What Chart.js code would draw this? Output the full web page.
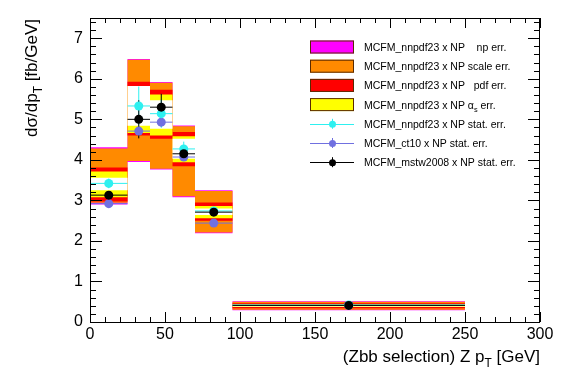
<!DOCTYPE html>
<html>
<head>
<meta charset="utf-8">
<script src="https://cdn.jsdelivr.net/npm/chart.js@4.4.0/dist/chart.umd.min.js"></script>
<style>
  html, body { margin: 0; padding: 0; background: #fff; }
</style>
</head>
<body>
<canvas id="chart" width="567" height="384"></canvas>
<script>
// bin edges of Z pT (GeV) and bin centres
const binEdges = [0, 25, 40, 55, 70, 95, 250];
const binCenters = [12.5, 32.5, 47.5, 62.5, 82.5, 172.5];

// uncertainty bands, low / high edge per bin
const npLow = [2.90, 3.95, 3.76, 3.08, 2.19, 0.29];
const npHigh = [4.31, 6.49, 5.92, 4.85, 3.25, 0.51];
const scaleLow = [2.94, 3.97, 3.78, 3.10, 2.21, 0.30];
const scaleHigh = [4.28, 6.47, 5.90, 4.83, 3.23, 0.50];
const pdfLow = [2.97, 4.60, 4.52, 3.84, 2.50, 0.34];
const pdfHigh = [3.81, 5.93, 5.73, 4.69, 2.95, 0.46];
const alphasLow = [3.08, 4.66, 4.60, 3.94, 2.56, 0.37];
const alphasHigh = [3.71, 5.82, 5.61, 4.58, 2.86, 0.44];
const innerLow = [3.25, 4.84, 4.77, 4.03, 2.64, 0.385];
const innerHigh = [3.56, 5.82, 5.47, 4.52, 2.80, 0.425];

// theory points with stat. errors
const nnpdfVal = [3.42, 5.33, 5.14, 4.27, 2.74, 0.42];
const nnpdfErr = [0.12, 0.48, 0.35, 0.18, 0.06, 0.02];
const ct10Val = [2.92, 4.71, 4.93, 4.07, 2.44, 0.41];
const ct10Err = [0.06, 0.12, 0.12, 0.08, 0.04, 0.01];
const mstwVal = [3.13, 5.00, 5.30, 4.15, 2.71, 0.41];
const mstwErr = [0.08, 0.47, 0.33, 0.12, 0.05, 0.02];

const xTicks = [0, 50, 100, 150, 200, 250, 300];
const yTicks = [0, 1, 2, 3, 4, 5, 6, 7];

const FONT = "'Liberation Sans', Helvetica, Arial, sans-serif";
const cMagenta = "#ff00ff", cOrange = "#ff8a00", cRed = "#ff0000", cYellow = "#ffff00";
const cCyan = "#2ef0f0", cBlue = "#7070e0", cBlack = "#000000";

function stepData(vals) {
    return binEdges.map((x, i) => ({ x: x, y: vals[Math.min(i, vals.length - 1)] }));
}

function band(lo, hi, color, order) {
    return [
        { data: stepData(lo), stepped: "before", borderWidth: 0, pointRadius: 0, fill: false, order: order },
        { data: stepData(hi), stepped: "before", borderWidth: 0, pointRadius: 0, fill: "-1", backgroundColor: color, order: order }
    ];
}

function errBars(vals, errs, color, order) {
    const d = [];
    vals.forEach((v, i) => {
        d.push({ x: binCenters[i], y: v - errs[i] }, { x: binCenters[i], y: v + errs[i] }, { x: binCenters[i], y: null });
        d.push({ x: binEdges[i], y: v }, { x: binEdges[i + 1], y: v }, { x: binEdges[i + 1], y: null });
    });
    return { data: d, borderColor: color, borderWidth: 1, pointRadius: 0, fill: false, spanGaps: false, order: order };
}

function markers(vals, color, order) {
    return {
        data: vals.map((v, i) => ({ x: binCenters[i], y: v })),
        showLine: false, pointRadius: 4.5, pointBorderWidth: 0,
        pointBackgroundColor: color, pointBorderColor: color, order: order
    };
}

const datasets = [].concat(
    band(npLow, npHigh, cMagenta, 20),
    band(scaleLow, scaleHigh, cOrange, 19),
    band(pdfLow, pdfHigh, cRed, 18),
    band(alphasLow, alphasHigh, cYellow, 17),
    band(innerLow, innerHigh, "#ffffff", 16),
    [errBars(ct10Val, ct10Err, cBlue, 6),
     errBars(nnpdfVal, nnpdfErr, cCyan, 5),
     errBars(mstwVal, mstwErr, cBlack, 4),
     markers(ct10Val, cBlue, 3),
     markers(nnpdfVal, cCyan, 2),
     markers(mstwVal, cBlack, 1)]
);

// draws text pieces, some of them as subscripts
function richWidth(ctx, parts, size) {
    let w = 0;
    parts.forEach(p => {
        ctx.font = (p.sub ? size * 0.7 : size) + "px " + FONT;
        w += ctx.measureText(p.t).width;
    });
    return w;
}
function drawRich(ctx, parts, x, y, size) {
    ctx.textAlign = "left";
    ctx.textBaseline = "alphabetic";
    parts.forEach(p => {
        ctx.font = (p.sub ? size * 0.7 : size) + "px " + FONT;
        ctx.fillText(p.t, x, p.sub ? y + size * 0.3 : y);
        x += ctx.measureText(p.t).width;
    });
}

const legendItems = [
    { kind: "box", color: cMagenta, text: [{ t: "MCFM_nnpdf23 x NP    np err." }] },
    { kind: "box", color: cOrange, text: [{ t: "MCFM_nnpdf23 x NP scale err." }] },
    { kind: "box", color: cRed, text: [{ t: "MCFM_nnpdf23 x NP   pdf err." }] },
    { kind: "box", color: cYellow, text: [{ t: "MCFM_nnpdf23 x NP " }, { t: "\u03b1" }, { t: "s", sub: true }, { t: " err." }] },
    { kind: "marker", color: cCyan, text: [{ t: "MCFM_nnpdf23 x NP stat. err." }] },
    { kind: "marker", color: cBlue, text: [{ t: "MCFM_ct10 x NP stat. err." }] },
    { kind: "marker", color: cBlack, text: [{ t: "MCFM_mstw2008 x NP stat. err." }] }
];

const rootStyle = {
    id: "rootStyle",
    afterDraw(chart) {
        const ctx = chart.ctx;
        const a = chart.chartArea;
        const xs = chart.scales.x, ys = chart.scales.y;
        ctx.save();
        ctx.strokeStyle = "#000";
        ctx.lineWidth = 1;
        ctx.strokeRect(a.left + 0.5, a.top + 0.5, a.right - a.left - 1, a.bottom - a.top);
        ctx.beginPath();
        for (let v = 0; v <= 300; v += 10) {
            const px = Math.round(xs.getPixelForValue(v)) + 0.5;
            const len = v % 50 === 0 ? 10 : 5;
            ctx.moveTo(px, a.bottom); ctx.lineTo(px, a.bottom - len);
            ctx.moveTo(px, a.top); ctx.lineTo(px, a.top + len);
        }
        for (let k = 0; k <= 37; k++) {
            const v = k * 0.2;
            const py = Math.round(ys.getPixelForValue(v)) + 0.5;
            const len = k % 5 === 0 ? 12 : 6;
            ctx.moveTo(a.left, py); ctx.lineTo(a.left + len, py);
            ctx.moveTo(a.right, py); ctx.lineTo(a.right - len, py);
        }
        ctx.stroke();

        // axis titles
        ctx.fillStyle = "#000";
        const xt = [{ t: "(Zbb selection) Z p" }, { t: "T", sub: true }, { t: " [GeV]" }];
        drawRich(ctx, xt, a.right - richWidth(ctx, xt, 17), 362, 17);
        const yt = [{ t: "d\u03c3/dp" }, { t: "T", sub: true }, { t: " [fb/GeV]" }];
        ctx.save();
        ctx.translate(37, a.top + 1);
        ctx.rotate(-Math.PI / 2);
        drawRich(ctx, yt, -richWidth(ctx, yt, 17), 0, 17);
        ctx.restore();

        // legend
        legendItems.forEach((it, i) => {
            const cy = 47 + i * 19.2;
            if (it.kind === "box") {
                ctx.fillStyle = it.color;
                ctx.fillRect(310, cy - 6.5, 44, 13);
                ctx.strokeStyle = "#5a2a00";
                ctx.strokeRect(310.5, cy - 6, 43, 12);
            } else {
                ctx.strokeStyle = it.color;
                ctx.beginPath();
                ctx.moveTo(310, Math.round(cy) + 0.5); ctx.lineTo(354, Math.round(cy) + 0.5);
                ctx.moveTo(332.5, cy - 5); ctx.lineTo(332.5, cy + 5);
                ctx.stroke();
                ctx.fillStyle = it.color;
                ctx.beginPath();
                ctx.arc(332.5, cy + 0.5, 3.5, 0, Math.PI * 2);
                ctx.fill();
            }
            ctx.fillStyle = "#000";
            drawRich(ctx, it.text, 364, cy + 4, 10.5);
        });
        ctx.restore();
    }
};

new Chart(document.getElementById("chart"), {
    type: "line",
    data: { datasets: datasets },
    options: {
        responsive: false,
        devicePixelRatio: 1,
        animation: false,
        layout: { padding: { top: 18, right: 27, left: 0, bottom: 0 } },
        plugins: { legend: { display: false }, tooltip: { enabled: false } },
        scales: {
            x: {
                type: "linear", min: 0, max: 300,
                afterFit: (s) => { s.height = 62; },
                afterBuildTicks: (s) => { s.ticks = xTicks.map(v => ({ value: v })); },
                grid: { display: false, drawTicks: false },
                border: { display: false },
                ticks: { padding: 3, maxRotation: 0, autoSkip: false, color: "#000", font: { family: FONT, size: 16 } }
            },
            y: {
                type: "linear", min: 0, max: 7.5,
                afterFit: (s) => { s.width = 90; },
                afterBuildTicks: (s) => { s.ticks = yTicks.map(v => ({ value: v })); },
                grid: { display: false, drawTicks: false },
                border: { display: false },
                ticks: { padding: 7, color: "#000", font: { family: FONT, size: 16 } }
            }
        }
    },
    plugins: [rootStyle]
});
</script>
</body>
</html>
